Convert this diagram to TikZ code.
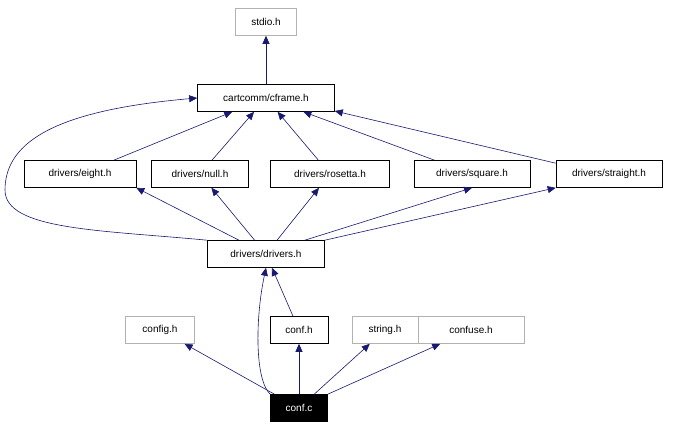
\documentclass[tikz,border=0pt]{standalone}
\usepackage{fontspec}
\setmainfont{Liberation Sans}
\usetikzlibrary{arrows.meta}
\begin{document}
\begin{tikzpicture}[x=1pt,y=-1pt,
  every node/.style={font=\fontsize{10}{12}\selectfont},
  box/.style={draw=black,fill=white,minimum height=27pt,inner xsep=4pt,line width=0.6pt},
  gbox/.style={box,draw=gray!60,text=black},
  e/.style={draw=blue!30!black!70!blue,color={rgb,255:red,25;green,25;blue,112},line width=0.6pt,-{Triangle[length=8pt,width=7pt]}}]
\useasboundingbox (0,0) rectangle (681,426);
\node[gbox,minimum width=61pt] (stdio) at (266,22) {stdio.h};
\node[box,minimum width=137pt] (cf) at (266,98) {cartcomm/cframe.h};
\node[box,minimum width=112pt] (eight) at (80,174) {drivers/eight.h};
\node[box,minimum width=97pt] (null) at (200,174) {drivers/null.h};
\node[box,minimum width=119pt] (ros) at (330,174) {drivers/rosetta.h};
\node[box,minimum width=116pt] (sq) at (472,174) {drivers/square.h};
\node[box,minimum width=106pt] (st) at (609,174) {drivers/straight.h};
\node[box,minimum width=117pt] (dd) at (266,254) {drivers/drivers.h};
\node[gbox,minimum width=69pt] (config) at (160,330) {config.h};
\node[box,minimum width=58pt] (conf) at (299,330) {conf.h};
\node[gbox,minimum width=66pt] (string) at (385,330) {string.h};
\node[gbox,minimum width=106pt] (confuse) at (471,330) {confuse.h};
\node[box,fill=black,text=white,minimum width=57pt] (confc) at (299,408) {conf.c};
\draw[e] (cf) -- (stdio);
\draw[e] (eight) -- (cf);
\draw[e] (null) -- (cf);
\draw[e] (ros) -- (cf);
\draw[e] (sq) -- (cf);
\draw[e] (st.north west) ++(0,3) -- (cf.east |- 0,111) ;
\draw[e] (dd) -- (eight.south east);
\draw[e] (dd) -- (null);
\draw[e] (dd) -- (ros);
\draw[e] (dd.north east) ++(-20,0) -- (sq.south);
\draw[e] (dd.north east) -- (st.south west);
\draw[e] (dd.north west) .. controls (100,230) and (5,230) .. (5,190) .. controls (5,140) and (60,110) .. (cf.west);
\draw[e] (conf) -- (dd);
\draw[e] (confc.north west) .. controls (255,380) and (255,320) .. (dd.south);
\draw[e] (confc) -- (config);
\draw[e] (confc) -- (conf);
\draw[e] (confc) -- (string);
\draw[e] (confc.north east) -- (confuse);
\end{tikzpicture}
\end{document}
